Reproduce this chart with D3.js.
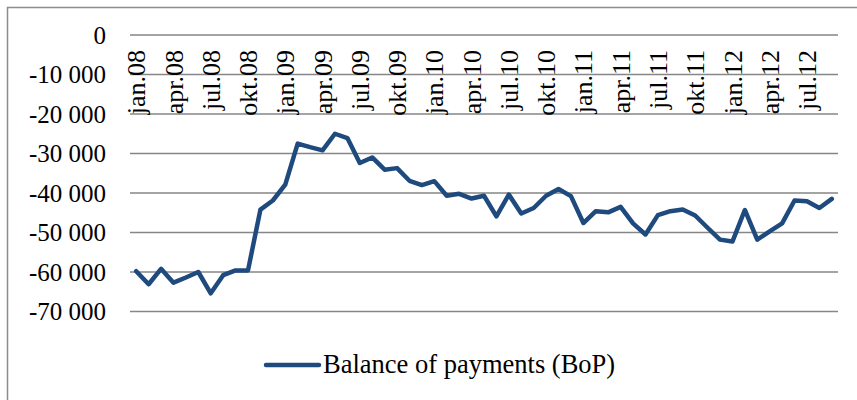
<!DOCTYPE html>
<html lang="en">
<head>
    <meta charset="utf-8">
    <title>Balance of payments (BoP)</title>
    <script type="text/javascript" src="https://cdn.jsdelivr.net/npm/d3@7"></script>
    <style type="text/css">
        body { margin: 0; background: #fff; }
        text { font-family: "Liberation Serif", "Times New Roman", serif; fill: #000; }
    </style>
</head>
<body>
    <script type="text/javascript">

			//Month labels jan.08 .. sep.12
			var monthNames = ["jan", "feb", "mar", "apr", "mai", "jun", "jul", "aug", "sep", "okt", "nov", "des"];
			var years = ["08", "09", "10", "11", "12"];

			//BoP values
			var bopValues = [
				-59800, -63100, -59200, -62700, -61400, -60000, -65400, -60800, -59600, -59600, -44200, -41900,
				-37900, -27500, -28400, -29200, -25000, -26100, -32400, -31000, -34100, -33700, -36900, -38000,
				-37000, -40700, -40200, -41400, -40700, -45900, -40400, -45200, -43800, -40700, -39000, -40800,
				-47600, -44600, -44900, -43500, -47700, -50500, -45600, -44600, -44200, -45700, -48800, -51800,
				-52300, -44300, -51800, -49700, -47700, -41900, -42100, -43800, -41500
			];

			var yTicks = [0, -10000, -20000, -30000, -40000, -50000, -60000, -70000];
			var seriesName = "Balance of payments (BoP)";

			var months = bopValues.map(function(d, i) {
				return monthNames[i % 12] + "." + years[Math.floor(i / 12)];
			});

			//Width and height
			var w = 857;
			var h = 400;

			var svg = d3.select("body")
						.append("svg")
						.attr("width", w)
						.attr("height", h);

			//Chart frame (only left and top edges show)
			svg.append("path")
			   .attr("d", "M7.5,400 V7.5 H857")
			   .style("fill", "none")
			   .style("stroke", "#8c8c8c")
			   .style("stroke-width", 1.5);

			var x = d3.scaleBand()
					  .domain(months)
					  .range([130, 838]);

			var y = d3.scaleLinear()
					  .domain([-70000, 0])
					  .range([311.5, 35]);

			//Gridlines
			svg.selectAll("line.grid")
			   .data(yTicks)
			   .enter()
			   .append("line")
			   .attr("class", "grid")
			   .attr("x1", 130)
			   .attr("x2", 838)
			   .attr("y1", function(d) { return y(d); })
			   .attr("y2", function(d) { return y(d); })
			   .style("stroke", "#868686")
			   .style("stroke-width", 1.5);

			//Y axis labels, hyphen minus and space as thousands separator
			var fmt = function(d) {
				return d3.format(",")(d).replace(/,/g, " ").replace("\u2212", "-");
			};
			svg.selectAll("text.ylab")
			   .data(yTicks)
			   .enter()
			   .append("text")
			   .attr("class", "ylab")
			   .attr("x", 106)
			   .attr("y", function(d) { return y(d); })
			   .attr("dy", "0.35em")
			   .attr("text-anchor", "end")
			   .style("font-size", "25px")
			   .text(fmt);

			//X axis labels every third month, rotated
			svg.selectAll("text.xlab")
			   .data(months.filter(function(d, i) { return i % 3 === 0; }))
			   .enter()
			   .append("text")
			   .attr("class", "xlab")
			   .attr("transform", function(d) {
			   		return "translate(" + (x(d) + x.bandwidth() / 2) + ",50) rotate(-90)";
			   })
			   .attr("dy", "0.35em")
			   .attr("text-anchor", "end")
			   .style("font-size", "26px")
			   .text(function(d) { return d; });

			//Line
			var line = d3.line()
						 .x(function(d, i) { return x(months[i]) + x.bandwidth() / 2; })
						 .y(function(d) { return y(d); });

			svg.append("path")
			   .datum(bopValues)
			   .attr("d", line)
			   .style("fill", "none")
			   .style("stroke", "#1f4a7e")
			   .style("stroke-width", 4.5)
			   .style("stroke-linejoin", "round")
			   .style("stroke-linecap", "round");

			//Legend
			svg.append("line")
			   .attr("x1", 266)
			   .attr("x2", 319)
			   .attr("y1", 365)
			   .attr("y2", 365)
			   .style("stroke", "#1f4a7e")
			   .style("stroke-width", 4.5)
			   .style("stroke-linecap", "round");

			svg.append("text")
			   .attr("x", 323)
			   .attr("y", 373)
			   .style("font-size", "26.5px")
			   .text(seriesName);

    </script>
</body>
</html>
